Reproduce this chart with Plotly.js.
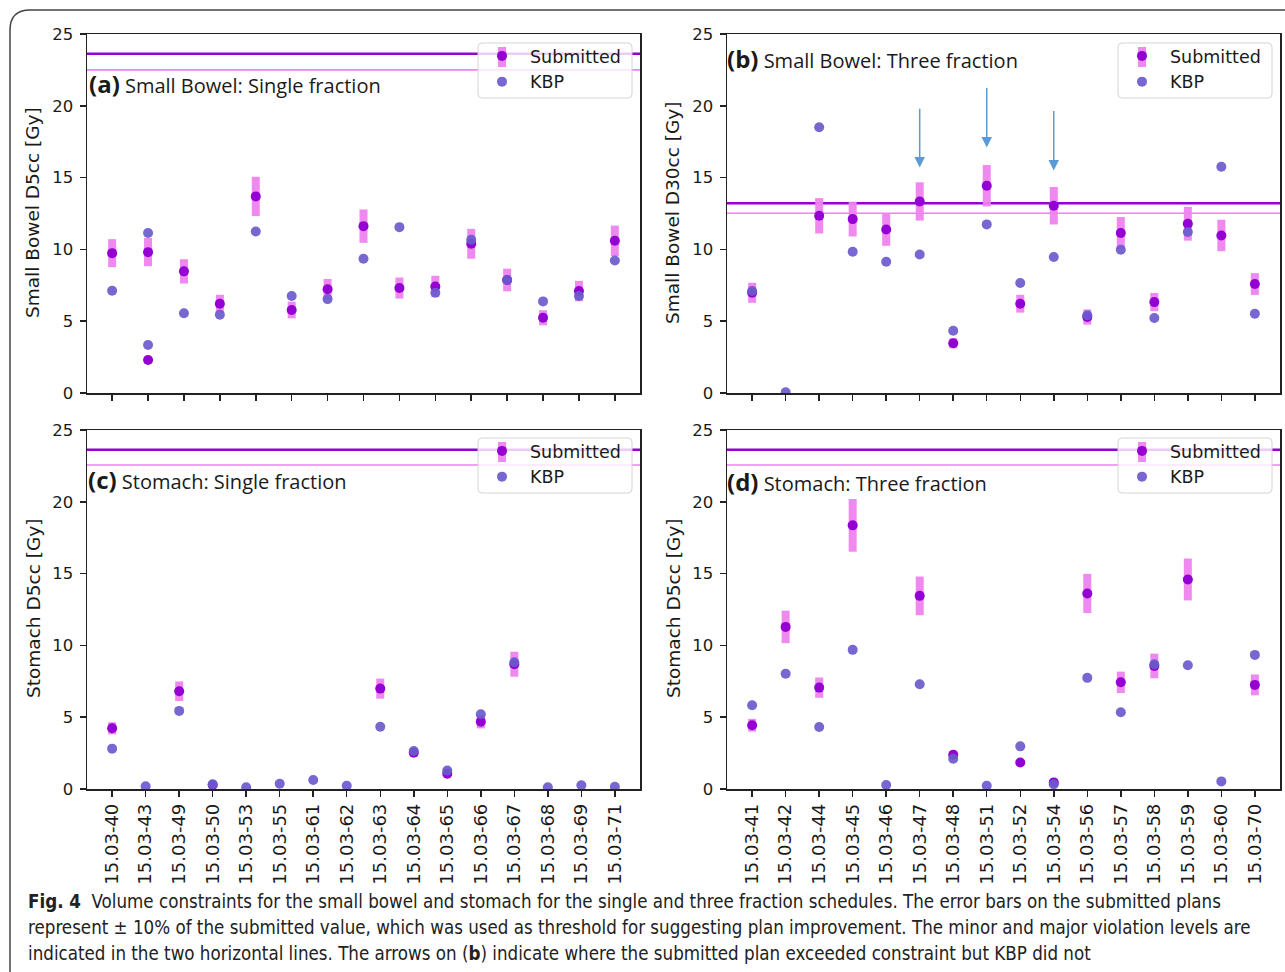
<!DOCTYPE html>
<html>
<head>
<meta charset="utf-8">
<script src="https://cdn.plot.ly/plotly-3.0.1.min.js"></script>
<style>html,body{margin:0;padding:0;background:#fff;}#chart{width:1285px;height:972px;}</style>
</head>
<body>
<div id="chart"></div>
<script>
// ---------- data ----------
const labelsAC = ['15.03-40','15.03-43','15.03-49','15.03-50','15.03-53','15.03-55','15.03-61','15.03-62','15.03-63','15.03-64','15.03-65','15.03-66','15.03-67','15.03-68','15.03-69','15.03-71'];
const labelsBD = ['15.03-41','15.03-42','15.03-44','15.03-45','15.03-46','15.03-47','15.03-48','15.03-51','15.03-52','15.03-54','15.03-56','15.03-57','15.03-58','15.03-59','15.03-60','15.03-70'];

// (a) Small bowel, single fraction (15 tick positions, two plans at position 1)
const aPos = [0,1,1,2,3,4,5,6,7,8,9,10,11,12,13,14];
const aSub = [9.74,9.81,2.30,8.47,6.22,13.69,5.78,7.22,11.62,7.31,7.42,10.39,7.87,5.24,7.10,10.60];
const aKbp = [7.12,11.14,3.34,5.55,5.45,11.25,6.75,6.54,9.35,11.55,6.98,10.67,7.87,6.38,6.75,9.23];

// (b) Small bowel, three fraction
const bPos = [0,1,2,3,4,5,6,7,8,9,10,11,12,13,14,15];
const bSub = [6.98,null,12.34,12.11,11.39,13.34,3.46,14.43,6.22,13.04,5.29,11.14,6.33,11.79,10.97,7.59];
const bKbp = [7.10,0.05,18.51,9.84,9.14,9.65,4.34,11.74,7.66,9.47,5.41,9.98,5.22,11.21,15.75,5.52];

// (c) Stomach, single fraction
const cPos = [0,1,2,3,4,5,6,7,8,9,10,11,12,13,14,15];
const cSub = [4.23,null,6.81,0.28,null,null,null,null,6.99,2.53,1.07,4.69,8.69,null,null,null];
const cKbp = [2.81,0.19,5.44,0.33,0.12,0.37,0.63,0.23,4.34,2.65,1.28,5.20,8.83,0.12,0.26,0.16];

// (d) Stomach, three fraction
const dPos = [0,1,2,3,4,5,6,7,8,9,10,11,12,13,14,15];
const dSub = [4.44,11.29,7.06,18.36,null,13.45,2.39,null,1.84,0.46,13.62,7.43,8.57,14.59,null,7.25];
const dKbp = [5.83,8.02,4.32,9.69,0.28,7.30,2.11,0.23,2.97,0.33,7.74,5.34,8.69,8.62,0.53,9.34];

// violation levels [major, minor]
const levelsA = [23.62, 22.50];
const levelsB = [13.22, 12.52];
const levelsC = [23.63, 22.56];
const levelsD = [23.63, 22.56];

// arrows on (b): positions, tail values, tip values
const arrowPos  = [5, 7, 9];
const arrowTail = [19.9, 21.35, 19.75];
const arrowTip  = [15.7, 17.1, 15.5];

const errFrac = 0.10; // +/-10% of submitted value

// ---------- styles ----------
const SUB_COLOR = '#9400D3';
const ERR_COLOR = 'rgba(238,130,238,0.95)';
const KBP_COLOR = 'rgba(106,90,205,0.92)';
const TFONT = 'Open Sans, Liberation Sans, sans-serif';
const FONT = 'DejaVu Sans, sans-serif';

function subTrace(pos, vals, xa, ya, lg) {
  return {
    type: 'scatter', mode: 'markers', x: pos, y: vals, xaxis: xa, yaxis: ya,
    name: 'Submitted', legend: lg, showlegend: true,
    marker: {color: SUB_COLOR, size: 10},
    error_y: {type: 'data', array: vals.map(v => v == null ? null : v * errFrac),
              visible: true, color: ERR_COLOR, thickness: 8, width: 0}
  };
}
function kbpTrace(pos, vals, xa, ya, lg) {
  return {
    type: 'scatter', mode: 'markers', x: pos, y: vals, xaxis: xa, yaxis: ya,
    name: 'KBP', legend: lg, showlegend: true,
    marker: {color: KBP_COLOR, size: 10}
  };
}

const data = [
  subTrace(aPos, aSub, 'x', 'y', 'legend'),
  kbpTrace(aPos, aKbp, 'x', 'y', 'legend'),
  subTrace(bPos, bSub, 'x2', 'y2', 'legend2'),
  kbpTrace(bPos, bKbp, 'x2', 'y2', 'legend2'),
  subTrace(cPos, cSub, 'x3', 'y3', 'legend3'),
  kbpTrace(cPos, cKbp, 'x3', 'y3', 'legend3'),
  subTrace(dPos, dSub, 'x4', 'y4', 'legend4'),
  kbpTrace(dPos, dKbp, 'x4', 'y4', 'legend4')
];

// ---------- layout ----------
const W = 1285, H = 972;
const px = v => v / W;
const py = v => 1 - v / H;

function xAxis(domain, anchor, n, labels) {
  const vals = Array.from({length: n}, (_, i) => i);
  const span = n - 1;
  return {
    domain: domain, anchor: anchor, range: [-0.05 * span, span * 1.05],
    tickmode: 'array', tickvals: vals, ticktext: labels ? labels : vals.map(() => ''),
    showticklabels: !!labels, tickangle: -90,
    ticks: 'outside', ticklen: 6, tickwidth: 1.5, tickcolor: '#222',
    showline: true, mirror: true, linecolor: '#222', linewidth: 1.5,
    showgrid: false, zeroline: false,
    tickfont: {family: FONT, size: 18, color: '#1a1a1a'}
  };
}
function yAxis(domain, anchor) {
  return {
    domain: domain, anchor: anchor, range: [0, 25],
    tickmode: 'array', tickvals: [0,5,10,15,20,25],
    ticks: 'outside', ticklen: 6, tickwidth: 1.5, tickcolor: '#222',
    showline: true, mirror: true, linecolor: '#222', linewidth: 1.5,
    showgrid: false, zeroline: false, ticklabelstandoff: 3,
    tickfont: {family: FONT, size: 16.5, color: '#1a1a1a'}
  };
}

const xL = [px(87), px(640)], xR = [px(727), px(1280)];
const yT = [py(393), py(34)], yB = [py(789), py(430)];

const shapes = [];
function levelLines(levels, xa, ya) {
  shapes.push({type: 'line', xref: xa + ' domain', yref: ya, x0: 0, x1: 1, y0: levels[0], y1: levels[0],
               line: {color: SUB_COLOR, width: 2.5}, layer: 'below'});
  shapes.push({type: 'line', xref: xa + ' domain', yref: ya, x0: 0, x1: 1, y0: levels[1], y1: levels[1],
               line: {color: 'violet', width: 1.6}, layer: 'below'});
}
levelLines(levelsA, 'x', 'y');
levelLines(levelsB, 'x2', 'y2');
levelLines(levelsC, 'x3', 'y3');
levelLines(levelsD, 'x4', 'y4');

// outer figure frame (rounded top-left corner)
shapes.push({type: 'path', xref: 'paper', yref: 'paper',
  path: `M ${px(10)},0 L ${px(10)},${py(30)} Q ${px(10)},${py(10)} ${px(30)},${py(10)} L 1.01,${py(10)}`,
  line: {color: '#444', width: 1.5}});

// legend frames (semi-transparent, rounded) and the error-bar swatch behind the legend marker
function legendFrame(x0, y0, x1, y1) {
  const r = 4;
  const path = `M ${px(x0 + r)},${py(y0)} L ${px(x1 - r)},${py(y0)} Q ${px(x1)},${py(y0)} ${px(x1)},${py(y0 + r)} ` +
               `L ${px(x1)},${py(y1 - r)} Q ${px(x1)},${py(y1)} ${px(x1 - r)},${py(y1)} ` +
               `L ${px(x0 + r)},${py(y1)} Q ${px(x0)},${py(y1)} ${px(x0)},${py(y1 - r)} ` +
               `L ${px(x0)},${py(y0 + r)} Q ${px(x0)},${py(y0)} ${px(x0 + r)},${py(y0)} Z`;
  shapes.push({type: 'path', xref: 'paper', yref: 'paper', path: path, layer: 'above',
               fillcolor: 'rgba(255,255,255,0.8)', line: {color: '#d4d4d4', width: 1}});
  shapes.push({type: 'rect', xref: 'paper', yref: 'paper', layer: 'above',
               x0: px(x0 + 20), x1: px(x0 + 28), y0: py(y0 + 24), y1: py(y0 + 4),
               fillcolor: ERR_COLOR, line: {width: 0}});
}
legendFrame(478, 43, 632, 98);
legendFrame(1118, 43, 1272, 98);
legendFrame(478, 438, 632, 493);
legendFrame(1118, 438, 1272, 493);

const annotations = [];
// arrows in (b)
arrowPos.forEach((p, i) => {
  annotations.push({xref: 'x2', yref: 'y2', axref: 'x2', ayref: 'y2',
    x: p, y: arrowTip[i], ax: p, ay: arrowTail[i], text: '', showarrow: true,
    arrowhead: 2, arrowsize: 1.4, arrowwidth: 1.5, arrowcolor: '#5b9bd5', standoff: 0, startstandoff: 0});
});

function panelTitle(letter, text, x, y) {
  annotations.push({xref: 'paper', yref: 'paper', x: px(x), y: py(y), xanchor: 'left', yanchor: 'middle',
    showarrow: false, align: 'left',
    text: `<b><span style="font-size:24px">(${letter})</span></b> ${text}`,
    font: {family: TFONT, size: 20, color: '#1a1a1a'}});
}
panelTitle('a', 'Small Bowel: Single fraction', 87, 84);
panelTitle('b', 'Small Bowel: Three fraction', 725, 59);
panelTitle('c', 'Stomach: Single fraction', 86, 479);
panelTitle('d', 'Stomach: Three fraction', 725, 481);

function yTitle(text, x, y) {
  annotations.push({xref: 'paper', yref: 'paper', x: px(x), y: py(y), xanchor: 'center', yanchor: 'middle',
    showarrow: false, textangle: -90, text: text, font: {family: FONT, size: 18.5, color: '#1a1a1a'}});
}
yTitle('Small Bowel D5cc [Gy]', 33, 213);
yTitle('Small Bowel D30cc [Gy]', 673, 213);
yTitle('Stomach D5cc [Gy]', 33, 609);
yTitle('Stomach D5cc [Gy]', 673, 609);

// caption
const CAP_FONT = 'Liberation Sans Narrow, DejaVu Sans Condensed, Roboto, sans-serif';
const captionLines = [
  '<b>Fig. 4</b>  Volume constraints for the small bowel and stomach for the single and three fraction schedules. The error bars on the submitted plans',
  'represent ± 10% of the submitted value, which was used as threshold for suggesting plan improvement. The minor and major violation levels are',
  'indicated in the two horizontal lines. The arrows on (<b>b</b>) indicate where the submitted plan exceeded constraint but KBP did not'
];
captionLines.forEach((t, i) => {
  annotations.push({xref: 'paper', yref: 'paper', x: px(26), y: py(901 + i * 26), xanchor: 'left', yanchor: 'middle',
    showarrow: false, align: 'left', text: t, font: {family: CAP_FONT, size: 18.6, color: '#222'}});
});

function legendCfg(xLeft, yTop) {
  return {x: px(xLeft), y: py(yTop), xanchor: 'left', yanchor: 'top',
    bgcolor: 'rgba(0,0,0,0)', borderwidth: 0, itemwidth: 46,
    font: {family: FONT, size: 17.5, color: '#1a1a1a'}, tracegroupgap: 0};
}

const layout = {
  width: W, height: H, margin: {l: 0, r: 0, t: 0, b: 0},
  paper_bgcolor: '#fff', plot_bgcolor: '#fff', showlegend: true,
  xaxis: xAxis(xL, 'y', 15, null),
  yaxis: yAxis(yT, 'x'),
  xaxis2: xAxis(xR, 'y2', 16, null),
  yaxis2: yAxis(yT, 'x2'),
  xaxis3: xAxis(xL, 'y3', 16, labelsAC),
  yaxis3: yAxis(yB, 'x3'),
  xaxis4: xAxis(xR, 'y4', 16, labelsBD),
  yaxis4: yAxis(yB, 'x4'),
  legend: legendCfg(474, 38),
  legend2: legendCfg(1114, 38),
  legend3: legendCfg(474, 433),
  legend4: legendCfg(1114, 433),
  shapes: shapes, annotations: annotations
};

Plotly.newPlot('chart', data, layout, {staticPlot: true});
</script>
</body>
</html>
